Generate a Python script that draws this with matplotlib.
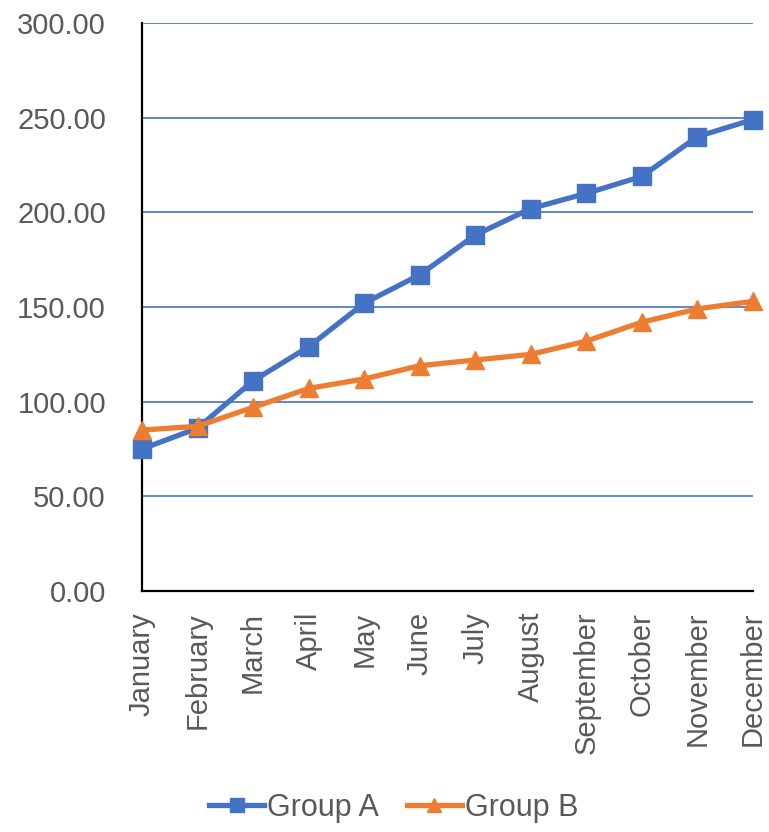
import matplotlib
matplotlib.use("Agg")
import matplotlib.pyplot as plt
from matplotlib import font_manager

months = ["January", "February", "March", "April", "May", "June", "July",
          "August", "September", "October", "November", "December"]
group_a = [75, 86, 111, 129, 152, 167, 188, 202, 210, 219, 240, 249]
group_b = [85, 87, 97, 107, 112, 119, 122, 125, 132, 142, 149, 153]
y_ticks = [0, 50, 100, 150, 200, 250, 300]

names = {f.name for f in font_manager.fontManager.ttflist}
family = "Liberation Sans Narrow" if "Liberation Sans Narrow" in names else "Liberation Sans"
plt.rcParams["font.family"] = [family, "DejaVu Sans"]

blue = "#4472C4"
orange = "#ED7D31"
grey = "#595959"

fig = plt.figure(figsize=(7.69, 8.32), dpi=100)
ax = fig.add_axes([142 / 769, 1 - 591 / 832, (753 - 142) / 769, (591 - 23) / 832])

x = list(range(len(months)))
ax.plot(x, group_a, color=blue, lw=3.8, marker="s", markersize=12.5,
        label="Group A", clip_on=False, zorder=4)
ax.plot(x, group_b, color=orange, lw=3.8, marker="^", markersize=12.5,
        label="Group B", clip_on=False, zorder=5)

ax.set_xlim(0, 11)
ax.set_ylim(0, 300)
ax.set_yticks(y_ticks)
ax.set_yticklabels([f"{v:.2f}" for v in y_ticks])
ax.set_xticks(x)
ax.set_xticklabels(months, rotation=90)
ax.tick_params(axis="y", length=0, pad=26, labelsize=21, labelcolor=grey)
ax.tick_params(axis="x", length=0, pad=15, labelsize=21, labelcolor=grey)

ax.grid(axis="y", color=blue, lw=1.2)
ax.set_axisbelow(True)
for s in ["top", "right"]:
    ax.spines[s].set_visible(False)
for s in ["left", "bottom"]:
    ax.spines[s].set_color("black")
    ax.spines[s].set_linewidth(1.6)
    ax.spines[s].set_zorder(3)

leg = fig.legend(loc="center", bbox_to_anchor=(0.512, 1 - 808 / 832), ncol=2,
                 frameon=False, fontsize=22, handlelength=1.8, handletextpad=0.1,
                 columnspacing=0.9, markerscale=0.85)
for t in leg.get_texts():
    t.set_color(grey)

fig.savefig("out.png", dpi=100)
